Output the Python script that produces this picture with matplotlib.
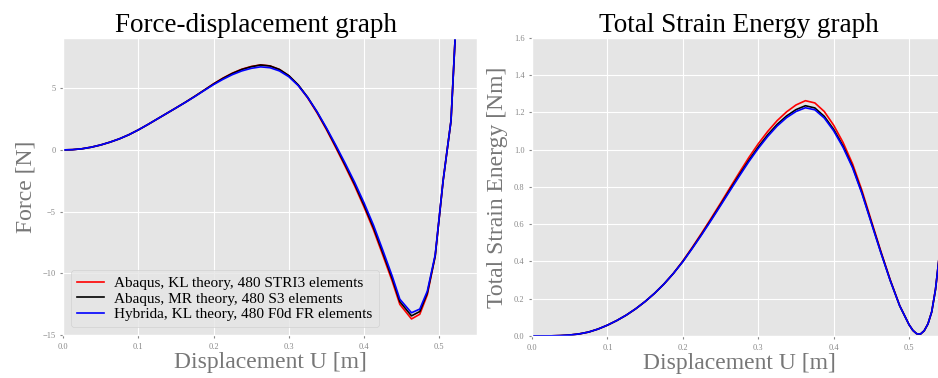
import matplotlib
matplotlib.use("Agg")
import matplotlib.pyplot as plt

plt.style.use("ggplot")
plt.rcParams['font.family'] = ['Liberation Serif', 'DejaVu Serif']

# ---- Force-displacement data ----
u_force = [0.0, 0.0125, 0.025, 0.0375, 0.05, 0.0625, 0.075, 0.0875, 0.1, 0.1125, 0.125,
           0.1375, 0.15, 0.1625, 0.175, 0.1875, 0.2, 0.2125, 0.225, 0.2375, 0.25, 0.2625,
           0.275, 0.2875, 0.3, 0.3125, 0.325, 0.3375, 0.35, 0.3625, 0.375, 0.3875, 0.4,
           0.4125, 0.425, 0.4375, 0.4475, 0.463, 0.474, 0.484, 0.4945, 0.505, 0.5155, 0.526]
force_abaqus_kl = [0.0, 0.02, 0.09, 0.22, 0.40, 0.63, 0.90, 1.23, 1.62, 2.05, 2.50,
                   2.95, 3.40, 3.86, 4.34, 4.84, 5.36, 5.82, 6.22, 6.54, 6.76, 6.89,
                   6.81, 6.52, 6.01, 5.24, 4.22, 3.00, 1.64, 0.17, -1.35, -2.92, -4.64,
                   -6.48, -8.55, -10.66, -12.52, -13.70, -13.32, -11.75, -8.6, -2.5, 2.36, 15.2]
force_abaqus_mr = [0.0, 0.02, 0.09, 0.22, 0.40, 0.63, 0.90, 1.23, 1.62, 2.05, 2.50,
                   2.95, 3.40, 3.86, 4.34, 4.84, 5.34, 5.80, 6.20, 6.52, 6.74, 6.88,
                   6.80, 6.52, 6.02, 5.27, 4.27, 3.07, 1.72, 0.27, -1.23, -2.78, -4.48,
                   -6.30, -8.35, -10.45, -12.30, -13.45, -13.10, -11.60, -8.6, -2.5, 2.36, 15.2]
force_hybrida_kl = [0.0, 0.02, 0.09, 0.22, 0.40, 0.63, 0.90, 1.23, 1.62, 2.05, 2.50,
                    2.95, 3.40, 3.85, 4.32, 4.81, 5.29, 5.72, 6.10, 6.40, 6.61, 6.73,
                    6.66, 6.40, 5.93, 5.21, 4.25, 3.10, 1.78, 0.37, -1.10, -2.63, -4.30,
                    -6.10, -8.15, -10.25, -12.10, -13.20, -12.90, -11.45, -8.5, -2.5, 2.36, 15.2]

# ---- Total strain energy data ----
u_energy = [0.0, 0.0125, 0.025, 0.0375, 0.05, 0.0625, 0.075, 0.0875, 0.1, 0.1125, 0.125,
            0.1375, 0.15, 0.1625, 0.175, 0.1875, 0.2, 0.2125, 0.225, 0.2375, 0.25, 0.2625,
            0.275, 0.2875, 0.3, 0.3125, 0.325, 0.3375, 0.35, 0.3625, 0.375, 0.3875, 0.4,
            0.4125, 0.425, 0.4375, 0.45, 0.4625, 0.475, 0.4875, 0.5, 0.505, 0.51, 0.515,
            0.52, 0.525, 0.53, 0.535, 0.54, 0.545]
energy_abaqus_kl = [0.0, 0.0001, 0.0006, 0.002, 0.005, 0.011, 0.021, 0.037, 0.058, 0.083, 0.112,
                    0.146, 0.185, 0.229, 0.279, 0.336, 0.403, 0.476, 0.553, 0.632, 0.713, 0.796,
                    0.878, 0.958, 1.032, 1.098, 1.156, 1.203, 1.240, 1.263, 1.251, 1.205, 1.131,
                    1.038, 0.924, 0.781, 0.617, 0.455, 0.301, 0.163, 0.060, 0.030, 0.012, 0.010,
                    0.028, 0.065, 0.130, 0.250, 0.430, 0.65]
energy_abaqus_mr = [0.0, 0.0001, 0.0006, 0.002, 0.005, 0.011, 0.021, 0.037, 0.058, 0.083, 0.112,
                    0.146, 0.185, 0.229, 0.279, 0.336, 0.400, 0.472, 0.547, 0.625, 0.705, 0.786,
                    0.866, 0.943, 1.015, 1.080, 1.136, 1.181, 1.215, 1.236, 1.224, 1.179, 1.109,
                    1.019, 0.909, 0.769, 0.609, 0.450, 0.298, 0.162, 0.060, 0.030, 0.012, 0.010,
                    0.028, 0.065, 0.130, 0.250, 0.430, 0.65]
energy_hybrida_kl = [0.0, 0.0001, 0.0006, 0.002, 0.005, 0.011, 0.021, 0.037, 0.058, 0.083, 0.112,
                     0.146, 0.185, 0.229, 0.279, 0.336, 0.399, 0.470, 0.544, 0.621, 0.700, 0.780,
                     0.859, 0.936, 1.007, 1.071, 1.127, 1.172, 1.205, 1.225, 1.214, 1.170, 1.101,
                     1.012, 0.903, 0.764, 0.605, 0.447, 0.297, 0.162, 0.060, 0.030, 0.012, 0.010,
                     0.028, 0.065, 0.130, 0.250, 0.430, 0.65]

labels = ["Abaqus, KL theory, 480 STRI3 elements",
          "Abaqus, MR theory, 480 S3 elements",
          "Hybrida, KL theory, 480 F0d FR elements"]
colors = ["red", "black", "blue"]

fig = plt.figure(figsize=(9.38, 3.78), dpi=100)
ax1 = fig.add_axes([0.0672, 0.1138, 0.4413, 0.7857])
ax2 = fig.add_axes([0.5672, 0.1112, 0.4414, 0.7885])

for y, c, l in zip([force_abaqus_kl, force_abaqus_mr, force_hybrida_kl], colors, labels):
    ax1.plot(u_force, y, color=c, lw=1.2, label=l)
for y, c in zip([energy_abaqus_kl, energy_abaqus_mr, energy_hybrida_kl], colors):
    ax2.plot(u_energy, y, color=c, lw=1.2)

ax1.set_xlim(0, 0.55)
ax1.set_ylim(-15, 9.07)
ax1.set_yticks([-15, -10, -5, 0, 5])
ax1.set_xticks([0.0, 0.1, 0.2, 0.3, 0.4, 0.5])
ax2.set_xlim(0, 0.549)
ax2.set_ylim(0, 1.6)
ax2.set_xticks([0.0, 0.1, 0.2, 0.3, 0.4, 0.5])
ax2.set_yticks([0.0, 0.2, 0.4, 0.6, 0.8, 1.0, 1.2, 1.4, 1.6])

for ax in (ax1, ax2):
    ax.tick_params(labelsize=6, colors="#888888", length=2, width=0.8)
    for lab in ax.get_xticklabels() + ax.get_yticklabels():
        lab.set_color("#888888")
    ax.set_xlabel("Displacement U [m]", fontsize=17, color="#777777", labelpad=1)

ax1.set_ylabel("Force [N]", fontsize=17, color="#777777", labelpad=4)
ax2.set_ylabel("Total Strain Energy [Nm]", fontsize=17, color="#777777", labelpad=4)
ax1.set_title("Force-displacement graph", fontsize=19.5, color="black", pad=3, x=0.466)
ax2.set_title("Total Strain Energy graph", fontsize=19.5, color="black", pad=3, x=0.5)

leg = ax1.legend(loc="lower left", fontsize=11, frameon=True, handlelength=1.8,
                 handletextpad=0.65, borderaxespad=0.5, labelspacing=0.12)
for t in leg.get_texts():
    t.set_color("black")

fig.savefig("out.png", dpi=100)
